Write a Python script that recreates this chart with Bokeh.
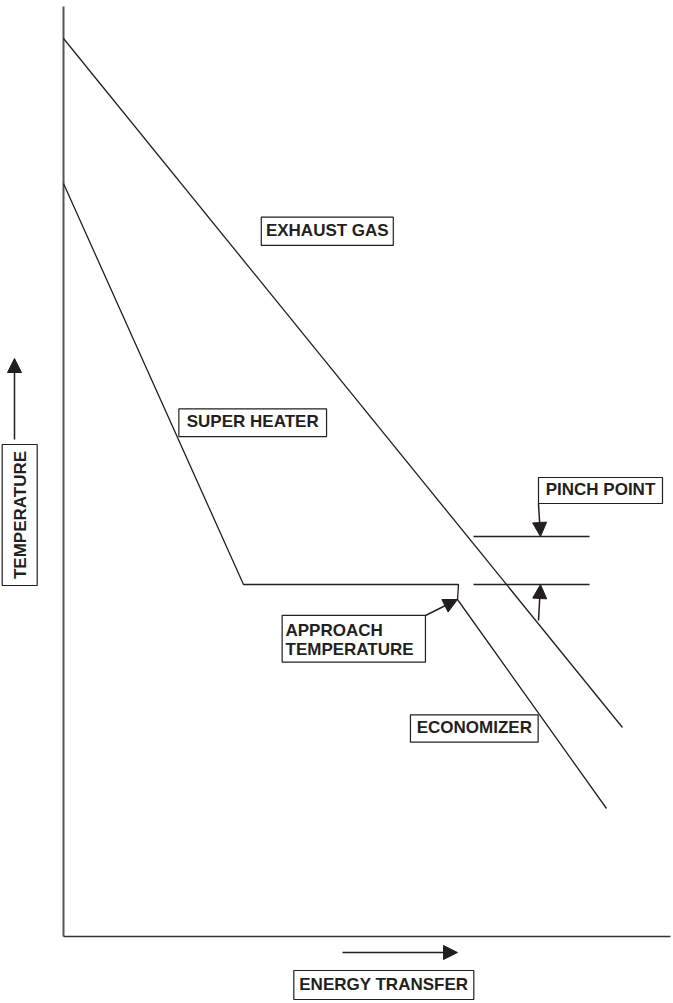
import math
from bokeh.plotting import figure
from bokeh.models import Range1d, Arrow, NormalHead
from bokeh.core.properties import value
from bokeh.embed import file_html
from bokeh.resources import INLINE

# ---- data (energy transfer vs temperature, arbitrary units) ----
exhaust_energy = [0, 559]
exhaust_temp = [898, 209]

steam_energy = [0, 180, 395, 394, 543]
steam_temp = [753, 352, 352, 337, 128]

pinch_energy = [410, 526]
pinch_temps = [400, 352]

box_labels = ["EXHAUST GAS", "SUPER HEATER", "PINCH POINT", "ECONOMIZER", "ENERGY TRANSFER"]
box_x = [263.8, 189.2, 537.0, 410.8, 320.3]
box_y = [705.2, 513.8, 446.0, 208.0, -48.5]
box_w = [132, 147.7, 124, 127.7, 180]
box_h = [28.3, 27.7, 26, 27.4, 29]

approach_lines = ["APPROACH", "TEMPERATURE"]
temp_label = "TEMPERATURE"

INK = "#231f20"
FONT = value("Liberation Sans")

p = figure(width=673, height=1003, output_backend="svg", toolbar_location=None,
           x_range=Range1d(-63, 610), y_range=Range1d(-67, 936),
           min_border=0, outline_line_color=None)
p.styles = {"margin": "0px"}
p.axis.visible = False
p.grid.visible = False
p.background_fill_color = "white"
p.border_fill_color = "white"

# axes (drawn through data scale)
p.line([0, 0], [0, 930], line_color="#555555", line_width=2)
p.line([0, 607], [0, 0], line_color="#333333", line_width=1.5)

# exhaust gas and steam curves
p.line(exhaust_energy, exhaust_temp, line_color=INK, line_width=1.3)
p.line(steam_energy, steam_temp, line_color=INK, line_width=1.3)

# pinch point reference lines
for t in pinch_temps:
    p.line(pinch_energy, [t, t], line_color=INK, line_width=1.3)

def arrow(x0, y0, x1, y1, size=14):
    p.add_layout(Arrow(end=NormalHead(size=size, fill_color=INK, line_color=INK),
                       x_start=x0, y_start=y0, x_end=x1, y_end=y1,
                       line_color=INK, line_width=1.5))

# pinch point arrows
arrow(475, 433, 477, pinch_temps[0])
arrow(475, 316, 477, pinch_temps[1])
# approach temperature arrow
arrow(362, 321, steam_energy[3], steam_temp[3])
# axis direction arrows
arrow(-49, 497, -49, 578)
arrow(279, -16, 394, -16)

# boxed labels
p.rect(box_x, box_y, box_w, box_h, fill_color="white", line_color=INK, line_width=1.2)
p.text(box_x, [y + 1 for y in box_y], text=box_labels, text_font=FONT,
       text_font_style="bold", text_font_size="17px", text_color=INK,
       text_align="center", text_baseline="middle")

# approach temperature box
p.rect([290.3], [297.7], [143.3], [46.7], fill_color="white", line_color=INK, line_width=1.2)
p.text([222, 222], [306.5, 287.5], text=approach_lines, text_font=FONT,
       text_font_style="bold", text_font_size="17px", text_color=INK,
       text_align="left", text_baseline="middle")

# vertical temperature label
p.rect([-43.8], [421.5], [35], [141], fill_color="white", line_color=INK, line_width=1.2)
p.text([-42.8], [421.5], text=[temp_label], angle=math.pi / 2, text_font=FONT,
       text_font_style="bold", text_font_size="17px", text_color=INK,
       text_align="center", text_baseline="middle")

open("out.html", "w").write(file_html(p, INLINE))
